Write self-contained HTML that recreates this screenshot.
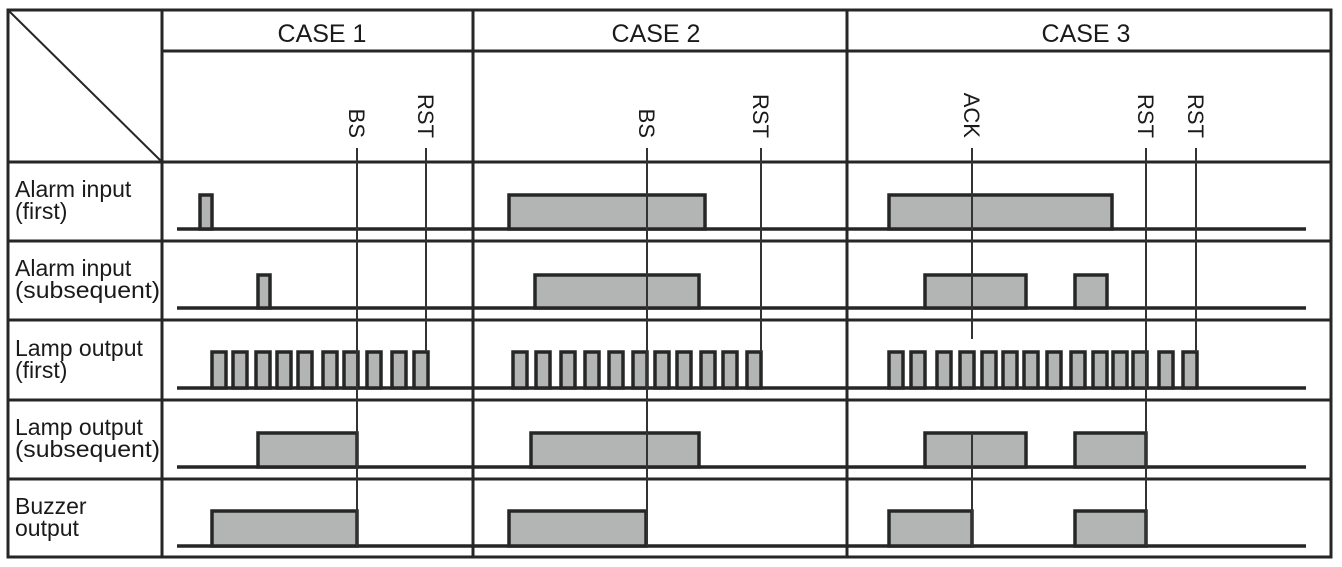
<!DOCTYPE html>
<html><head><meta charset="utf-8"><style>
html,body{margin:0;padding:0;background:#fff;}
svg{display:block;font-family:"Liberation Sans",sans-serif;}
</style></head><body>
<svg id="chart" width="1342" height="567" viewBox="0 0 1342 567">
<g id="grid" stroke="#262626" stroke-width="3" fill="none">
<rect x="8" y="10" width="1323" height="547"/>
<line x1="162" y1="10" x2="162" y2="557"/>
<line x1="473" y1="10" x2="473" y2="557"/>
<line x1="847" y1="10" x2="847" y2="557"/>
<line x1="162" y1="51" x2="1331" y2="51"/>
<line x1="8" y1="162" x2="1331" y2="162"/>
<line x1="8" y1="241" x2="1331" y2="241"/>
<line x1="8" y1="320" x2="1331" y2="320"/>
<line x1="8" y1="400" x2="1331" y2="400"/>
<line x1="8" y1="479" x2="1331" y2="479"/>
<line x1="9" y1="11" x2="161" y2="161" stroke-width="2"/>
</g>
<g font-size="25" fill="#1a1a1a" text-anchor="middle">
<text x="322" y="42">CASE 1</text>
<text x="656" y="42">CASE 2</text>
<text x="1086" y="42">CASE 3</text>
</g>
<g font-size="23" fill="#1a1a1a" textLength="0">
<text x="15" y="197"><tspan x="15">Alarm input</tspan><tspan x="15" dy="22">(first)</tspan></text>
<text x="15" y="276"><tspan x="15">Alarm input</tspan><tspan x="15" dy="22" textLength="145" lengthAdjust="spacingAndGlyphs">(subsequent)</tspan></text>
<text x="15" y="356"><tspan x="15">Lamp output</tspan><tspan x="15" dy="22">(first)</tspan></text>
<text x="15" y="435"><tspan x="15">Lamp output</tspan><tspan x="15" dy="22" textLength="145" lengthAdjust="spacingAndGlyphs">(subsequent)</tspan></text>
<text x="15" y="514"><tspan x="15">Buzzer</tspan><tspan x="15" dy="22">output</tspan></text>
</g>
<g id="marks"></g>
</svg>
<script>
// rows: baseline y, box top y
const rowBase = [229, 308, 388, 467, 546];
const rowTop = [195, 275, 352, 433, 511];
// signals: [row, start, end]
const alarmFirst = [[0,200,212],[0,509,705],[0,889,1112]];
const alarmSub = [[1,258,270],[1,535,699],[1,925,1026],[1,1075,1107]];
const lampFirstStarts = [212,233,256,277,298,323,344,367,392,414,513,536,561,585,609,633,655,677,701,723,747,889,911,937,960,982,1003,1024,1047,1071,1093,1113,1133,1159,1183];
const lampSub = [[3,258,357],[3,531,699],[3,925,1026],[3,1075,1146]];
const buzzer = [[4,212,357],[4,509,646],[4,889,972],[4,1075,1146]];
// markers: label, x, segments
const markerLabels = ["BS","RST","BS","RST","ACK","RST","RST"];
const markerX = [357,426,647,761,972,1146,1196];
const markerEnd = [546,352,546,352,546,546,352];
const NS="http://www.w3.org/2000/svg";
const g=document.getElementById('marks');
function mk(t,a){const e=document.createElementNS(NS,t);for(const k in a)e.setAttribute(k,a[k]);g.appendChild(e);return e;}
rowBase.forEach((y,i)=>{
  const l=mk('line',{x1:177,y1:y,x2:1306,y2:y,stroke:'#262626','stroke-width':3.5});
  
  
});
function box(r,x1,x2,name){
  const e=mk('rect',{x:x1,y:rowTop[r],width:x2-x1,height:rowBase[r]-rowTop[r],fill:'#b3b5b4',stroke:'#262626','stroke-width':3.5});
  
  
}
alarmFirst.forEach(s=>box(s[0],s[1],s[2],'alarm-first-pulse'));
alarmSub.forEach(s=>box(s[0],s[1],s[2],'alarm-subsequent-pulse'));
lampFirstStarts.forEach(x=>box(2,x,x+14,'lamp-first-flash'));
lampSub.forEach(s=>box(s[0],s[1],s[2],'lamp-subsequent-pulse'));
buzzer.forEach(s=>box(s[0],s[1],s[2],'buzzer-pulse'));
markerX.forEach((x,i)=>{
  const lab=markerLabels[i];
  let segs=[[148,markerEnd[i]]];
  if(lab==='ACK') segs=[[148,339],[433,markerEnd[i]]];
  segs.forEach(s=>{
    const l=mk('line',{x1:x,y1:s[0],x2:x,y2:s[1],stroke:'#333','stroke-width':2});
    
    
  });
  const t=mk('text',{x:0,y:0,'font-size':22,fill:'#1a1a1a',transform:'translate('+(x-8)+',138) rotate(90)','text-anchor':'end'});
  t.textContent=lab;
  
  
});
</script>
</body></html>
